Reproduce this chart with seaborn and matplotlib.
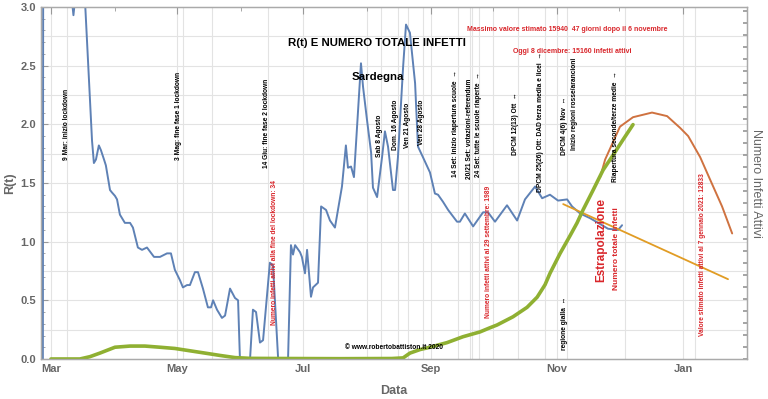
import numpy as np
import pandas as pd
import matplotlib
matplotlib.use("Agg")
import matplotlib.pyplot as plt
import matplotlib.dates as mdates
from matplotlib.ticker import MultipleLocator, FixedLocator, NullFormatter
import seaborn as sns

# ---------------- data (days counted from 1 March 2020) ----------------
BASE = pd.Timestamp("2020-03-01")

r_days = [-3.9, -3.7, 4.4, 10.2, 10.9, 11.6, 14.0, 16.5, 19.9, 20.8, 21.8, 23.2, 24.2, 25.7,
          26.6, 28.6, 29.5, 31.0, 32.0, 33.4, 35.8, 38.3, 39.7, 42.1, 44.1, 46.5, 49.9,
          52.8, 56.2, 58.1, 60.0, 62.5, 63.9, 65.9, 67.3, 69.7, 71.2, 73.6, 76.0, 77.5,
          78.5, 80.4, 82.8, 84.3, 86.7, 89.1, 90.6, 91.5, 96.4, 97.8, 99.3, 101.2, 102.7,
          106.0, 107.5, 110.0, 114.8, 116.2, 117.2, 118.2, 120.6, 121.5, 123.0, 124.0,
          125.9, 126.9, 129.3, 130.8, 133.2, 135.1, 137.5, 140.9, 142.8, 143.8, 145.3,
          146.7, 150.1, 151.1, 153.0, 155.0, 155.9, 157.9, 160.3, 161.7, 163.2, 165.6,
          166.6, 168.0, 170.5, 171.9, 173.8, 176.3, 177.7, 180.1, 183.5, 185.9, 187.4,
          189.8, 192.3, 196.6, 198.0, 200.4, 204.4, 209.2, 211.6, 215.0, 220.8, 225.7,
          229.5, 234.4, 237.8, 241.6, 245.5, 249.9, 252.3, 256.2, 261.0, 264.9, 269.7,
          274.6, 276.5]
r_values = [0.0, 4.5, 4.0, 3.05, 2.93, 3.05, 3.6, 3.05, 1.86, 1.67, 1.70, 1.82, 1.78, 1.70,
            1.65, 1.44, 1.42, 1.39, 1.36, 1.23, 1.16, 1.16, 1.12, 0.95, 0.93, 0.95, 0.87,
            0.87, 0.90, 0.90, 0.76, 0.67, 0.61, 0.63, 0.63, 0.74, 0.74, 0.60, 0.44, 0.44,
            0.50, 0.42, 0.35, 0.37, 0.60, 0.52, 0.50, 0.0, 0.0, 0.42, 0.40, 0.14, 0.16,
            0.82, 0.80, 0.0, 0.0, 0.97, 0.89, 0.97, 0.91, 0.87, 0.73, 0.93,
            0.53, 0.61, 0.65, 1.30, 1.27, 1.18, 1.12, 1.47, 1.82, 1.63, 1.64,
            1.55, 2.52, 2.32, 2.04, 1.76, 1.46, 1.38, 1.72, 1.94, 1.81, 1.44,
            1.44, 1.72, 2.49, 2.85, 2.78, 2.35, 1.81, 1.72, 1.59, 1.41, 1.40,
            1.34, 1.27, 1.17, 1.17, 1.24, 1.13, 1.25, 1.25, 1.17, 1.31, 1.18,
            1.36, 1.47, 1.37, 1.40, 1.35, 1.36, 1.30, 1.24, 1.20, 1.16, 1.11,
            1.10, 1.14]

active_days = [0, 14.0, 18.9, 23.7, 31.0, 38.3, 45.5, 52.8, 60.0, 67.3, 74.6, 81.8, 89.1,
               96.4, 105.0, 140.0, 165.0, 170.5, 173.8, 178.7, 183.5, 191.8, 199.5, 207.7,
               212.0, 216.0, 223.7, 230.5, 235.4, 239.2, 241.6, 246.5, 251.3, 254.7, 257.6,
               262.5, 267.3, 272.2, 277.0, 281.8]
active_values = [0, 0, 150, 380, 760, 835, 835, 760, 680, 530, 380, 230, 90,
                 40, 34, 20, 30, 70, 380, 610, 760, 1060, 1440, 1750,
                 1989, 2200, 2730, 3340, 4000, 4800, 5540, 6830, 7970, 8800, 9640,
                 10930, 12220, 13200, 14190, 15160]

extrap_days = [265.9, 268.3, 275.5, 281.8, 291.0, 298.3, 304.6, 308.5, 314.3, 319.1, 324.9, 329.8]
extrap_values = [11760, 12900, 15030, 15640, 15940, 15710, 14950, 14420, 13060, 11610, 9870, 8120]

rfit_days = [248.0, 327.8]
rfit_values = [1.32, 0.68]

month_tick_dates = ["2020-03-01", "2020-05-01", "2020-07-01", "2020-09-01", "2020-11-01", "2021-01-01"]
month_tick_labels = ["Mar", "May", "Jul", "Sep", "Nov", "Jan"]
event_dates = ["2020-03-09", "2020-05-04", "2020-05-18", "2020-06-14", "2020-08-01", "2020-08-08",
               "2020-08-16", "2020-08-21", "2020-08-28", "2020-09-14", "2020-09-20", "2020-09-21",
               "2020-09-24", "2020-10-01", "2020-10-13", "2020-10-26", "2020-11-06", "2020-12-04",
               "2021-01-07"]

RIGHT_MAX = 22770


def to_dates(days):
    return BASE + pd.to_timedelta(np.asarray(days, dtype=float), unit="D")


r_df = pd.DataFrame({"Data": to_dates(r_days), "R": r_values})
act_df = pd.DataFrame({"Data": to_dates(active_days), "N": active_values})
ext_df = pd.DataFrame({"Data": to_dates(extrap_days), "N": extrap_values})
fit_df = pd.DataFrame({"Data": to_dates(rfit_days), "R": rfit_values})

# ---------------- style ----------------
sns.set_theme(style="white")
plt.rcParams["font.family"] = ["Liberation Sans", "DejaVu Sans"]

BLUE = "#5E81B5"
GREEN = "#8FB032"
ORANGE = "#E19C24"
BROWN = "#CF7240"
RED = "#D9262B"
GRAY = "#666666"
GRID = "#e3e3e3"

fig = plt.figure(figsize=(7.68, 3.99), dpi=100)
ax = fig.add_axes([0.0534, 0.1003, 0.9193, 0.8822])
ax2 = ax.twinx()

# grid
for yv in np.arange(0.25, 3.0, 0.25):
    ax.axhline(yv, color=GRID, lw=0.8, zorder=0)
for d in list(month_tick_dates) + list(event_dates):
    ax.axvline(pd.Timestamp(d), color=GRID, lw=0.8, zorder=0)

sns.lineplot(data=r_df, x="Data", y="R", ax=ax, color=BLUE, lw=1.4, estimator=None, sort=False)
sns.lineplot(data=fit_df, x="Data", y="R", ax=ax, color=ORANGE, lw=1.3, estimator=None)
sns.lineplot(data=ext_df, x="Data", y="N", ax=ax2, color=BROWN, lw=1.4, estimator=None)
sns.lineplot(data=act_df, x="Data", y="N", ax=ax2, color=GREEN, lw=2.6, estimator=None)

ax.set_xlim(to_dates([-4.8])[0], to_dates([337])[0])
ax.set_ylim(0, 3.0)
ax2.set_ylim(0, RIGHT_MAX)

ax.xaxis.set_major_locator(FixedLocator(mdates.date2num(pd.to_datetime(month_tick_dates))))
ax.set_xticklabels(month_tick_labels)
ax.xaxis.set_minor_locator(mdates.MonthLocator())
ax.yaxis.set_major_locator(MultipleLocator(0.5))
ax.yaxis.set_minor_locator(MultipleLocator(0.1))
ax.yaxis.set_major_formatter(matplotlib.ticker.FormatStrFormatter("%.1f"))
ax.tick_params(axis="both", which="both", direction="in", colors="#999999",
               labelcolor=GRAY, labelsize=8, top=True)
ax.tick_params(axis="both", which="major", length=5, width=0.8)
ax.tick_params(axis="both", which="minor", length=3, width=0.6)
for lab in ax.get_xticklabels() + ax.get_yticklabels():
    lab.set_fontweight("bold")
ax2.yaxis.set_major_locator(MultipleLocator(776))
ax2.yaxis.set_major_formatter(NullFormatter())
ax2.tick_params(axis="y", direction="in", length=3, colors="#999999")
ax2.set_ylabel("")

for a in (ax, ax2):
    for s in a.spines.values():
        s.set_color("#aaaaaa")
        s.set_linewidth(0.9)

ax.set_xlabel("Data", color=GRAY, fontsize=9, fontweight="bold", labelpad=8)
ax.set_ylabel("R(t)", color=GRAY, fontsize=9, fontweight="bold", labelpad=3)
fig.text(0.985, 0.54, "Numero Infetti Attivi", rotation=270, color=GRAY, fontsize=9,
         ha="center", va="center")

T = ax.transData


def dx(day):
    return mdates.date2num(BASE + pd.Timedelta(days=day))


def vtext(day, y, s, color="black", size=4.8, weight="bold"):
    ax2.text(dx(day), y, s, transform=T, rotation=90, ha="center", va="bottom",
             color=color, fontsize=size, fontweight=weight, zorder=10)


ax2.text(dx(157.8), 2.69, "R(t) E NUMERO TOTALE INFETTI", transform=T, ha="center", va="center",
         fontsize=8.2, fontweight="bold", color="black")
ax2.text(dx(158.4), 2.40, "Sardegna", transform=T, ha="center", va="center",
         fontsize=8.2, fontweight="bold", color="black")
ax2.text(dx(201.5), 2.81, "Massimo valore stimato 15940  47 giorni dopo il 6 novembre", transform=T,
         ha="left", va="center", fontsize=5.0, fontweight="bold", color=RED)
ax2.text(dx(223.7), 2.62, "Oggi 8 dicembre: 15160 infetti attivi", transform=T,
         ha="left", va="center", fontsize=5.0, fontweight="bold", color=RED)
ax2.text(dx(166), 0.094, "© www.robertobattiston.it 2020", transform=T, ha="center", va="center",
         fontsize=4.8, fontweight="bold", color="black")

vtext(7.3, 1.70, "9 Mar: inizio lockdown")
vtext(62.0, 1.70, "3 Mag: fine fase 1 lockdown")
vtext(104.6, 1.63, "14 Giu: fine fase 2 lockdown")
vtext(108.0, 0.29, "Numero infetti attivi alla fine del lockdown: 34", color=RED)
vtext(159.3, 1.72, "Sab 8 Agosto")
vtext(167.0, 1.78, "Dom. 16 Agosto")
vtext(172.4, 1.80, "Ven 21 Agosto")
vtext(179.2, 1.82, "Ven 28 Agosto")
vtext(196.1, 1.55, "14 Set: inizio riapertura scuole  →")
vtext(202.4, 1.53, "20/21 Set: votazioni-referendum")
vtext(206.8, 1.55, "24 Set: tutte le scuole riaperte  →")
vtext(211.6, 0.35, "Numero infetti attivi al 29 settembre: 1989", color=RED)
vtext(224.7, 1.74, "DPCM 12(13) Ott  ↔")
vtext(236.8, 1.42, "DPCM 25(26) Ott: DAD terza media e licei  →")
vtext(248.4, 1.74, "DPCM 4(6) Nov  ↔")
vtext(253.7, 1.78, "Inizio regioni rosse/arancioni")
vtext(273.1, 1.51, "Riapertura seconde/terze medie  →")
vtext(248.4, 0.08, "regione gialla  ↔")
vtext(266.3, 0.66, "Estrapolazione", color=RED, size=8.5)
vtext(274.0, 0.59, "Numero totale infetti", color=RED, size=6.0)
vtext(315.3, 0.20, "Valore stimato infetti attivi al 7 gennaio 2021: 12833", color=RED)

fig.savefig("out.png", dpi=100)
